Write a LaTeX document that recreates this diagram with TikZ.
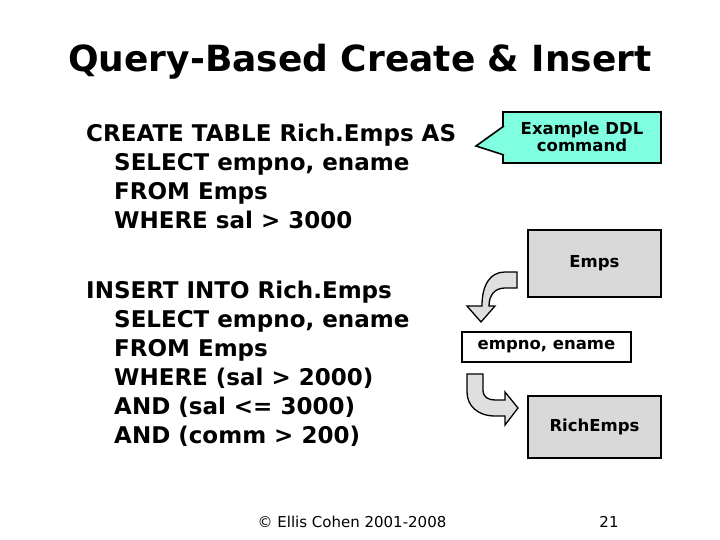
\documentclass[tikz,border=0pt]{standalone}
\usepackage{fontspec}
\setmainfont{DejaVu Sans}
\usetikzlibrary{positioning}
\definecolor{calloutaqua}{RGB}{128,255,224}
\begin{document}
\begin{tikzpicture}[x=1pt,y=-1pt,
    every node/.style={font=\bfseries},
    code/.style={anchor=north west, align=left, font=\bfseries\fontsize{23}{29}\selectfont, inner sep=0pt},
    tablebox/.style={draw, line width=1.6pt, fill=gray!30, font=\bfseries\fontsize{16.5}{18}\selectfont},
    bentarrow/.style={draw, line width=1.3pt, fill=gray!25, line join=miter}
]
\useasboundingbox (0,0) rectangle (720,540);

% Title
\node[font=\bfseries\fontsize{36}{40}\selectfont] (title) at (360,62) {Query-Based Create \& Insert};

% Code blocks
\node[code] (create) at (86,124) {CREATE TABLE Rich.Emps AS\\
\hspace{28pt}SELECT empno, ename\\
\hspace{28pt}FROM Emps\\
\hspace{28pt}WHERE sal > 3000};
\node[code] (insert) at (86,281) {INSERT INTO Rich.Emps\\
\hspace{28pt}SELECT empno, ename\\
\hspace{28pt}FROM Emps\\
\hspace{28pt}WHERE (sal > 2000)\\
\hspace{28pt}AND (sal <= 3000)\\
\hspace{28pt}AND (comm > 200)};

% Callout
\draw[line width=1.6pt, fill=calloutaqua] (503,112) rectangle (661,163);
\draw[line width=1.6pt, fill=calloutaqua] (504,126) -- (476,146) -- (504,155);
\node[align=center, font=\bfseries\fontsize{16.5}{17}\selectfont, inner sep=0pt] (ddl) at (582,137) {Example DDL\\command};

% Tables
\node[tablebox, minimum width=133pt, minimum height=67pt] (emps) at (594.5,263.5) {Emps};
\node[draw, line width=1.6pt, fill=white, minimum width=169pt, minimum height=30pt, font=\bfseries\fontsize{16.5}{18}\selectfont] (cols) at (546.5,347) {empno, ename};
\node[tablebox, minimum width=133pt, minimum height=62pt] (rich) at (594.5,427) {RichEmps};

% Bent arrows
\draw[bentarrow] (517,272) -- (505,272) .. controls (490,272) and (482,285) .. (482,306) -- (467,306)
  -- (481,322) -- (495,306) -- (489,306) .. controls (489,295) and (495,288) .. (505,288) -- (517,288) -- cycle;
\draw[bentarrow] (467,374) -- (483,374) -- (483,390) .. controls (483,397) and (488,400) .. (495,400) -- (505,400)
  -- (505,392) -- (518,408) -- (505,425) -- (505,416) -- (495,416) .. controls (478,416) and (467,406) .. (467,392) -- cycle;

% Footer
\node[font=\fontsize{15}{17}\selectfont] (copy) at (352,522) {© Ellis Cohen 2001-2008};
\node[font=\fontsize{15}{17}\selectfont] (page) at (609,522) {21};
\end{tikzpicture}
\end{document}
